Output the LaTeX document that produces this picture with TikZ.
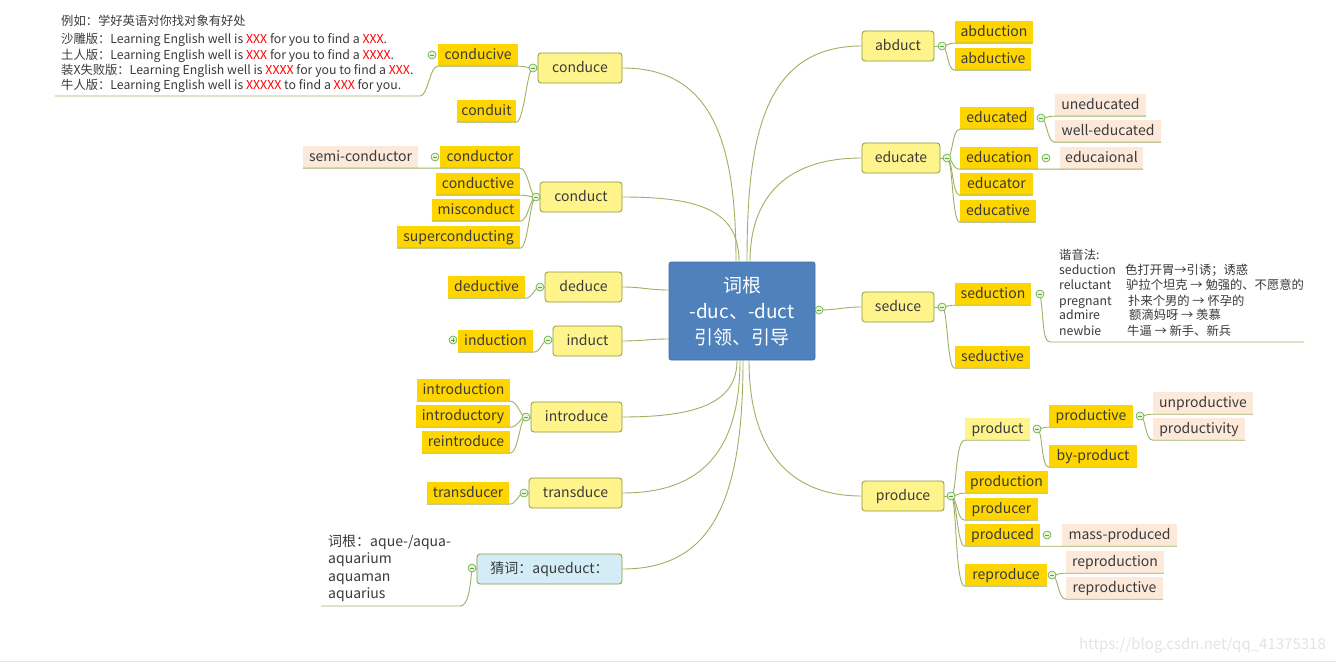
\documentclass[tikz,border=0pt]{standalone}
\usepackage{fontspec}
\setmainfont{Noto Sans CJK SC}
\usetikzlibrary{calc}
\definecolor{gold}{HTML}{FFD500}
\definecolor{lyel}{HTML}{FFF38C}
\definecolor{peach}{HTML}{FDE9D9}
\definecolor{lblue}{HTML}{D3ECF6}
\definecolor{olive}{HTML}{8A9A3B}
\definecolor{connc}{HTML}{A0B060}
\definecolor{cgreen}{HTML}{5DA83A}
\definecolor{cfill}{HTML}{E8F4D8}
\definecolor{centralc}{HTML}{4F81BD}
\definecolor{txt}{HTML}{3A3A3A}
\definecolor{wmark}{HTML}{E4E4E4}
\newcommand\redx[1]{\textcolor{red}{#1}}
\tikzset{
  mainnode/.style={draw=olive, fill=lyel, rounded corners=3pt, minimum height=30pt, inner sep=0pt, font=\fontsize{14}{16}\selectfont, text=txt, line width=0.8pt, text height=11pt, text depth=2pt},
  leaf/.style={fill=gold, minimum height=22pt, inner sep=0pt, font=\fontsize{14}{16}\selectfont, text=txt, text height=11pt, text depth=2pt},
  subleaf/.style={leaf, fill=peach},
  tog/.style={circle, draw=cgreen, fill=cfill, minimum size=8pt, inner sep=0pt, line width=0.6pt,
    path picture={\draw[cgreen, line width=0.7pt] ([xshift=-2.3pt]path picture bounding box.center) -- ([xshift=2.3pt]path picture bounding box.center);}},
  togplus/.style={circle, draw=cgreen, fill=cfill, minimum size=8pt, inner sep=0pt, line width=0.6pt,
    path picture={\draw[cgreen, line width=0.7pt] ([xshift=-2.3pt]path picture bounding box.center) -- ([xshift=2.3pt]path picture bounding box.center);
      \draw[cgreen, line width=0.7pt] ([yshift=-2.3pt]path picture bounding box.center) -- ([yshift=2.3pt]path picture bounding box.center);}},
  link/.style={draw=connc, line width=0.9pt},
  notetxt/.style={font=\fontsize{12.3}{15}\selectfont, text=txt, inner sep=0pt, anchor=west, text height=0.8em, text depth=0.2em},
  notebig/.style={font=\fontsize{14}{17.7}\selectfont, text=txt, inner sep=0pt, anchor=west, text height=0.8em, text depth=0.2em}
}
\begin{document}
\begin{tikzpicture}[x=1pt,y=-1pt,line join=round]
\useasboundingbox (0,0) rectangle (1336,663);
\fill[white] (0,0) rectangle (1336,663);

% ---------- root ----------
\node[fill=centralc, draw=centralc!85!black, line width=0.6pt, rounded corners=2pt, minimum width=146pt, minimum height=98pt, inner sep=0pt, align=center, text=white, font=\fontsize{19}{26}\selectfont] (root) at (742,311) {词根\\-duc、-duct\\引领、引导};

% ---------- level 1 ----------
\node[mainnode, minimum width=72pt] (abduct) at (898,46) {abduct};
\node[mainnode, minimum width=78pt] (educate) at (901,158) {educate};
\node[mainnode, minimum width=72pt] (seduce) at (898,307) {seduce};
\node[mainnode, minimum width=82pt] (produce) at (903,496) {produce};
\node[mainnode, minimum width=84pt] (conduce) at (580,68) {conduce};
\node[mainnode, minimum width=82pt] (conduct) at (581,197) {conduct};
\node[mainnode, minimum width=77pt] (deduce) at (583.5,287) {deduce};
\node[mainnode, minimum width=69pt] (induct) at (587.5,341) {induct};
\node[mainnode, minimum width=91pt] (introduce) at (576.5,417) {introduce};
\node[mainnode, minimum width=93pt] (transduce) at (575.5,493) {transduce};
\node[mainnode, fill=lblue, minimum width=145pt] (aque) at (549.5,569) {猜词：aqueduct：};

% ---------- right children ----------
\node[leaf, minimum width=78pt] (abduction) at (994,32) {abduction};
\node[leaf, minimum width=76pt] (abductive) at (993,59) {abductive};
\node[leaf, minimum width=74pt] (educated) at (997,118) {educated};
\node[subleaf, minimum width=91pt] (uneducated) at (1100.5,105) {uneducated};
\node[subleaf, minimum width=106pt] (welleducated) at (1108,131) {well-educated};
\node[leaf, minimum width=78pt] (education) at (999,158) {education};
\node[subleaf, minimum width=83pt] (educaional) at (1101.5,158) {educaional};
\node[leaf, minimum width=73pt] (educator) at (996.5,184) {educator};
\node[leaf, minimum width=76pt] (educative) at (998,211) {educative};
\node[leaf, minimum width=76pt] (seduction) at (993,294) {seduction};
\node[leaf, minimum width=75pt] (seductive) at (992.5,357) {seductive};
\node[leaf, fill=lyel, minimum width=65pt] (product) at (997.5,429) {product};
\node[leaf, minimum width=84pt] (productive) at (1091,416) {productive};
\node[subleaf, minimum width=100pt] (unproductive) at (1203,403) {unproductive};
\node[subleaf, minimum width=92pt] (productivity) at (1199,429) {productivity};
\node[leaf, minimum width=88pt] (byproduct) at (1093,456) {by-product};
\node[leaf, minimum width=83pt] (production) at (1006.5,482) {production};
\node[leaf, minimum width=73pt] (producer) at (1001.5,509) {producer};
\node[leaf, minimum width=75pt] (produced) at (1002.5,535) {produced};
\node[subleaf, minimum width=115pt] (massproduced) at (1119.5,535) {mass-produced};
\node[leaf, minimum width=82pt] (reproduce) at (1006,575) {reproduce};
\node[subleaf, minimum width=98pt] (reproduction) at (1115,562) {reproduction};
\node[subleaf, minimum width=97pt] (reproductive) at (1114.5,588) {reproductive};

% ---------- left children ----------
\node[leaf, minimum width=80pt] (conducive) at (478,55) {conducive};
\node[leaf, minimum width=59pt] (conduit) at (486.5,111) {conduit};
\node[leaf, minimum width=80pt] (conductor) at (480,157) {conductor};
\node[subleaf, minimum width=115pt] (semiconductor) at (360.5,157) {semi-conductor};
\node[leaf, minimum width=84pt] (conductive) at (478,184) {conductive};
\node[leaf, minimum width=88pt] (misconduct) at (476,210) {misconduct};
\node[leaf, minimum width=123pt] (supercond) at (458.5,237) {superconducting};
\node[leaf, minimum width=77pt] (deductive) at (486.5,287) {deductive};
\node[leaf, minimum width=75pt] (induction) at (495.5,341) {induction};
\node[leaf, minimum width=93pt] (introduction) at (463.5,390) {introduction};
\node[leaf, minimum width=94pt] (introductory) at (463,416) {introductory};
\node[leaf, minimum width=88pt] (reintroduce) at (466,442) {reintroduce};
\node[leaf, minimum width=82pt] (transducer) at (468,493) {transducer};

% ---------- notes ----------
\node[notetxt] (nl1) at (61,23) {例如：学好英语对你找对象有好处};
\node[notetxt] (nl2) at (61,41) {沙雕版：Learning English well is \redx{XXX} for you to find a \redx{XXX}.};
\node[notetxt] (nl3) at (61,56.5) {土人版：Learning English well is \redx{XXX} for you to find a \redx{XXXX}.};
\node[notetxt] (nl4) at (61,71.5) {装X失败版：Learning English well is \redx{XXXX} for you to find a \redx{XXX}.};
\node[notetxt] (nl5) at (61,86.5) {牛人版：Learning English well is \redx{XXXXX} to find a \redx{XXX} for you.};

\node[notetxt] (ns0) at (1059,256.5) {谐音法:};
\node[notetxt] (ns1a) at (1059,271) {seduction};
\node[notetxt] (ns1b) at (1125,271) {色打开胃→引诱；诱惑};
\node[notetxt] (ns2a) at (1059,286.5) {reluctant};
\node[notetxt] (ns2b) at (1126,286.5) {驴拉个坦克 → 勉强的、不愿意的};
\node[notetxt] (ns3a) at (1059,302) {pregnant};
\node[notetxt] (ns3b) at (1128,302) {扑来个男的 → 怀孕的};
\node[notetxt] (ns4a) at (1059,316.5) {admire};
\node[notetxt] (ns4b) at (1129,316.5) {额滴妈呀 → 羡慕};
\node[notetxt] (ns5a) at (1059,332) {newbie};
\node[notetxt] (ns5b) at (1127,332) {牛逼 → 新手、新兵};

\node[notebig] (na1) at (328,543) {词根：aque-/aqua-};
\node[notebig] (na2) at (328,560.5) {aquarium};
\node[notebig] (na3) at (328,578) {aquaman};
\node[notebig] (na4) at (328,595.5) {aquarius};

% ---------- toggle positions ----------
\coordinate (troot) at (819,310);
\coordinate (tabd) at (942,46);
\coordinate (tedu) at (947,158);
\coordinate (tedd) at (1041,118);
\coordinate (tedn) at (1046,158);
\coordinate (tsed) at (942,307);
\coordinate (tsedn) at (1040,294);
\coordinate (tpro) at (951,496);
\coordinate (tprd) at (1037,429);
\coordinate (tprv) at (1140,416);
\coordinate (tprdd) at (1047,535);
\coordinate (trep) at (1052,575);
\coordinate (tcnc) at (533,68);
\coordinate (tcncv) at (432,55);
\coordinate (tcnd) at (536,197);
\coordinate (tcndr) at (435,157);
\coordinate (tded) at (540,287);
\coordinate (tind) at (548,340);
\coordinate (tindn) at (453,340);
\coordinate (tint) at (526,417);
\coordinate (ttra) at (524,493);
\coordinate (taq) at (472,568);
\coordinate (nlA) at (420,96);
\coordinate (nlB) at (55,96);
\coordinate (nsA) at (1050,342);
\coordinate (nsB) at (1304,342);
\coordinate (naA) at (460,606);
\coordinate (naB) at (321,606);

% ---------- root links ----------
\draw[link] ($(root.north)+(5,0)$) .. controls +(0,-120) and +(-100,0) .. (abduct.west);
\draw[link] ($(root.north)+(8,0)$) .. controls +(0,-60) and +(-80,0) .. (educate.west);
\draw[link] (troot) .. controls +(20,0) and +(-20,0) .. (seduce.west);
\draw[link] (root.east |- troot) -- (troot);
\draw[link] ($(root.south)+(7,0)$) .. controls +(0,80) and +(-80,0) .. (produce.west);
\draw[link] ($(root.north)+(-6,0)$) .. controls +(0,-120) and +(90,0) .. (conduce.east);
\draw[link] ($(root.north)+(-3,0)$) .. controls +(0,-50) and +(80,0) .. (conduct.east);
\draw[link] ($(root.west)+(0,-21)$) .. controls +(-20,0) and +(20,0) .. (deduce.east);
\draw[link] ($(root.west)+(0,28)$) .. controls +(-20,0) and +(20,0) .. (induct.east);
\draw[link] ($(root.south)+(-5,0)$) .. controls +(0,40) and +(80,0) .. (introduce.east);
\draw[link] ($(root.south)+(-2,0)$) .. controls +(0,90) and +(80,0) .. (transduce.east);
\draw[link] ($(root.south)+(1,0)$) .. controls +(0,140) and +(90,0) .. (aque.east);

% ---------- right links ----------
\draw[link] (abduct.east) -- (tabd);
\draw[link] (tabd) .. controls +(6,0) and +(-8,0) .. (abduction.south west) -- (abduction.south east);
\draw[link] (tabd) .. controls +(6,0) and +(-8,0) .. (abductive.south west) -- (abductive.south east);

\draw[link] (educate.east) -- (tedu);
\draw[link] (tedu) .. controls +(6,0) and +(-8,0) .. (educated.south west) -- (educated.south east);
\draw[link] (tedu) .. controls +(6,0) and +(-8,0) .. (education.south west) -- (educaional.south east);
\draw[link] (tedu) .. controls +(6,0) and +(-8,0) .. (educator.south west) -- (educator.south east);
\draw[link] (tedu) .. controls +(6,0) and +(-8,0) .. (educative.south west) -- (educative.south east);
\draw[link] (tedd) .. controls +(6,0) and +(-8,0) .. (uneducated.south west) -- (uneducated.south east);
\draw[link] (tedd) .. controls +(6,0) and +(-8,0) .. (welleducated.south west) -- (welleducated.south east);

\draw[link] (seduce.east) -- (tsed);
\draw[link] (tsed) .. controls +(6,0) and +(-8,0) .. (seduction.south west) -- (seduction.south east);
\draw[link] (tsed) .. controls +(6,0) and +(-8,0) .. (seductive.south west) -- (seductive.south east);
\draw[link] (tsedn) .. controls +(4,22) and +(-8,0) .. (nsA) -- (nsB);

\draw[link] (produce.east) -- (tpro);
\draw[link] (tpro) .. controls +(6,0) and +(-10,0) .. (product.south west) -- (product.south east);
\draw[link] (tpro) .. controls +(6,0) and +(-8,0) .. (production.south west) -- (production.south east);
\draw[link] (tpro) .. controls +(6,0) and +(-8,0) .. (producer.south west) -- (producer.south east);
\draw[link] (tpro) .. controls +(6,0) and +(-8,0) .. (produced.south west) -- (massproduced.south east);
\draw[link] (tpro) .. controls +(6,0) and +(-10,0) .. (reproduce.south west) -- (reproduce.south east);
\draw[link] (tprd) .. controls +(6,0) and +(-8,0) .. (productive.south west) -- (productive.south east);
\draw[link] (tprd) .. controls +(6,0) and +(-8,0) .. (byproduct.south west) -- (byproduct.south east);
\draw[link] (tprv) .. controls +(6,0) and +(-8,0) .. (unproductive.south west) -- (unproductive.south east);
\draw[link] (tprv) .. controls +(6,0) and +(-8,0) .. (productivity.south west) -- (productivity.south east);
\draw[link] (trep) .. controls +(6,0) and +(-8,0) .. (reproduction.south west) -- (reproduction.south east);
\draw[link] (trep) .. controls +(6,0) and +(-8,0) .. (reproductive.south west) -- (reproductive.south east);

% ---------- left links ----------
\draw[link] (conduce.west) -- (tcnc);
\draw[link] (tcnc) .. controls +(-6,0) and +(8,0) .. (conducive.south east) -- (conducive.south west);
\draw[link] (tcnc) .. controls +(-6,0) and +(8,0) .. (conduit.south east) -- (conduit.south west);
\draw[link] (conducive.south west) .. controls +(-8,0) and +(8,0) .. (nlA) -- (nlB);

\draw[link] (conduct.west) -- (tcnd);
\draw[link] (tcnd) .. controls +(-6,0) and +(8,0) .. (conductor.south east) -- (semiconductor.south west);
\draw[link] (tcnd) .. controls +(-6,0) and +(8,0) .. (conductive.south east) -- (conductive.south west);
\draw[link] (tcnd) .. controls +(-6,0) and +(8,0) .. (misconduct.south east) -- (misconduct.south west);
\draw[link] (tcnd) .. controls +(-6,0) and +(8,0) .. (supercond.south east) -- (supercond.south west);

\draw[link] (deduce.west) -- (tded);
\draw[link] (tded) .. controls +(-6,0) and +(8,0) .. (deductive.south east) -- (deductive.south west);
\draw[link] (induct.west) -- (tind);
\draw[link] (tind) .. controls +(-6,0) and +(8,0) .. (induction.south east) -- (induction.south west);

\draw[link] (introduce.west) -- (tint);
\draw[link] (tint) .. controls +(-6,0) and +(8,0) .. (introduction.south east) -- (introduction.south west);
\draw[link] (tint) .. controls +(-6,0) and +(8,0) .. (introductory.south east) -- (introductory.south west);
\draw[link] (tint) .. controls +(-6,0) and +(8,0) .. (reintroduce.south east) -- (reintroduce.south west);
\draw[link] (transduce.west) -- (ttra);
\draw[link] (ttra) .. controls +(-6,0) and +(8,0) .. (transducer.south east) -- (transducer.south west);

\draw[link] (aque.west) -- (taq);
\draw[link] (taq) .. controls +(-2,22) and +(8,0) .. (naA) -- (naB);

% ---------- toggles ----------
\foreach \t in {troot,tabd,tedu,tedd,tedn,tsed,tsedn,tpro,tprd,tprv,tprdd,trep,tcnc,tcncv,tcnd,tcndr,tded,tind,tint,ttra,taq}
  \node[tog] (\t N) at (\t) {};
\node[togplus] (tindnN) at (tindn) {};

% ---------- watermark ----------
\draw[wmark, line width=0.8pt] (0,661) -- (1336,661);
\node[font=\fontsize{15}{17}\selectfont, text=wmark, anchor=east, inner sep=0pt] (wm) at (1326,645) {https://blog.csdn.net/qq\_41375318};
\end{tikzpicture}
\end{document}
